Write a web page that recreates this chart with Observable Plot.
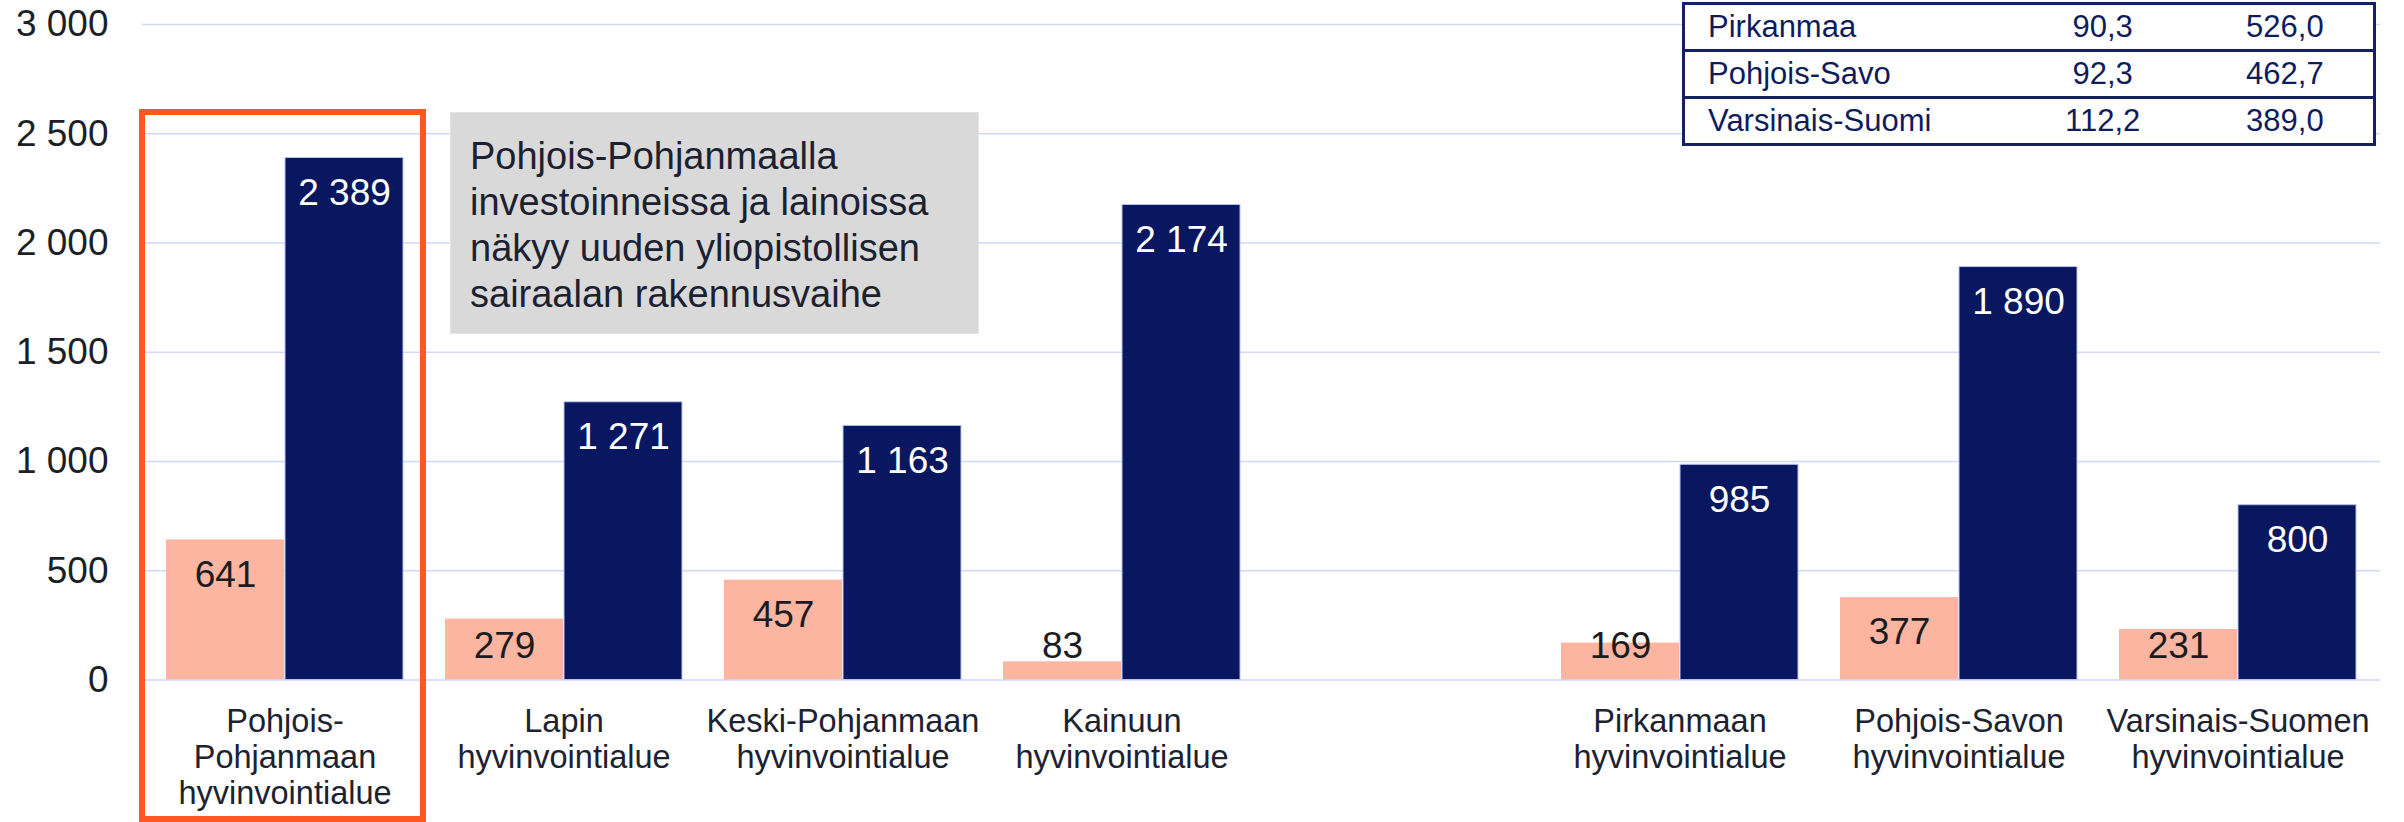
<!DOCTYPE html>
<html>
<head>
<meta charset="utf-8">
<script src="https://cdn.jsdelivr.net/npm/d3@7"></script>
<script src="https://cdn.jsdelivr.net/npm/@observablehq/plot@0.6"></script>
<style>
  html, body { margin: 0; padding: 0; background: #ffffff; }
  #wrap { position: relative; width: 2404px; height: 822px; overflow: hidden; background: #ffffff;
          font-family: "Liberation Sans", Arial, sans-serif; }
  #wrap svg { position: absolute; left: 0; top: 0; }
  .note { position: absolute; background: #d9d9d9; border: 1px solid #e4e4e4; box-sizing: border-box;
          color: #1b2130; font-size: 38px; line-height: 46px; padding: 20px 0 0 19px; }
  .highlight { position: absolute; border: 6px solid #fe5722; box-sizing: border-box; }
  .tbl { position: absolute; background: #ffffff; box-sizing: border-box;
         border-left: 3px solid #13215e; border-right: 3px solid #13215e; border-top: 3px solid #13215e;
         color: #0f1c5c; font-size: 31px; }
  .tbl .row { display: flex; height: 44px; line-height: 44px; border-bottom: 3px solid #13215e; }
  .tbl .c0 { width: 330px; padding-left: 23px; box-sizing: border-box; }
  .tbl .c1 { width: 192px; text-align: center; }
  .tbl .c2 { width: 180px; text-align: center; }
</style>
</head>
<body>
<div id="wrap"></div>
<script>
// ---- data ----
const categories = ["Pohjois-Pohjanmaa", "Lappi", "Keski-Pohjanmaa", "Kainuu", "_gap", "Pirkanmaa", "Pohjois-Savo", "Varsinais-Suomi"];
const categoryLabels = [
  "Pohjois-\nPohjanmaan\nhyvinvointialue",
  "Lapin\nhyvinvointialue",
  "Keski-Pohjanmaan\nhyvinvointialue",
  "Kainuun\nhyvinvointialue",
  "",
  "Pirkanmaan\nhyvinvointialue",
  "Pohjois-Savon\nhyvinvointialue",
  "Varsinais-Suomen\nhyvinvointialue"
];
const regions = ["Pohjois-Pohjanmaa", "Lappi", "Keski-Pohjanmaa", "Kainuu", "Pirkanmaa", "Pohjois-Savo", "Varsinais-Suomi"];
const seriesPink = [641, 279, 457, 83, 169, 377, 231];
const seriesNavy = [2389, 1271, 1163, 2174, 985, 1890, 800];
const yTicks = [0, 500, 1000, 1500, 2000, 2500, 3000];

const highlighted = "Pohjois-Pohjanmaa";
const noteLines = ["Pohjois-Pohjanmaalla", "investoinneissa ja lainoissa", "näkyy uuden yliopistollisen", "sairaalan rakennusvaihe"];

const tableNames = ["Pirkanmaa", "Pohjois-Savo", "Varsinais-Suomi"];
const tableCol1 = [90.3, 92.3, 112.2];
const tableCol2 = [526.0, 462.7, 389.0];

// ---- helpers ----
const fmtInt = d => d3.format(",")(d).replace(/,/g, " ");
const fmtDec = d => d.toFixed(1).replace(".", ",");
const labelOf = new Map(categories.map((c, i) => [c, categoryLabels[i]]));
const rows = regions.map((r, i) => ({cat: r, pink: seriesPink[i], navy: seriesNavy[i]}));

const PINK = "#fcb5a0";
const NAVY = "#091760";
const GRID = "#cfd8f6";

const chart = Plot.plot({
  width: 2404,
  height: 822,
  marginLeft: 142,
  marginRight: 24,
  marginTop: 24,
  marginBottom: 142.5,
  style: {fontFamily: '"Liberation Sans", Arial, sans-serif', background: "transparent", overflow: "visible"},
  x: {domain: categories, paddingInner: 0.149, paddingOuter: 0.075, axis: null},
  y: {domain: [0, 3000], axis: null},
  marks: [
    Plot.ruleY(yTicks, {stroke: GRID, strokeWidth: 1.6}),
    Plot.axisY(yTicks, {tickSize: 0, tickPadding: 34, fontSize: 37, fill: "#1c1f26", tickFormat: fmtInt, label: null}),
    Plot.barY(rows, {x: "cat", y: "pink", fill: PINK, insetRight: 119}),
    Plot.barY(rows, {x: "cat", y: "navy", fill: NAVY, stroke: "#b9c3ee", strokeWidth: 1, insetLeft: 119}),
    Plot.text(rows, {x: "cat", y: d => Math.max(d.pink, 316), dy: 35, dx: -59.5, text: d => fmtInt(d.pink),
                     fill: "#1a1c22", fontSize: 37}),
    Plot.text(rows, {x: "cat", y: "navy", dy: 35, dx: 59.5, text: d => fmtInt(d.navy),
                     fill: "#ffffff", fontSize: 37}),
    Plot.text(categories, {x: d => d, frameAnchor: "bottom", dy: 26, lineAnchor: "top", lineHeight: 1.108,
                           text: d => labelOf.get(d), fill: "#1c2230", fontSize: 32.5})
  ]
});

const wrap = document.getElementById("wrap");
wrap.appendChild(chart);

// highlight frame around the first category, positioned from the x scale
const xs = chart.scale("x");
const hx = xs.apply(highlighted);
const hl = document.createElement("div");
hl.className = "highlight";
hl.style.left = (hx - 27) + "px";
hl.style.width = (xs.bandwidth + 50) + "px";
hl.style.top = "108.7px";
hl.style.height = "713px";
wrap.appendChild(hl);

// annotation box
const note = document.createElement("div");
note.className = "note";
note.style.left = "450px";
note.style.top = "112px";
note.style.width = "529px";
note.style.height = "222px";
note.innerHTML = noteLines.join("<br>");
wrap.appendChild(note);

// table (top-right)
const tbl = document.createElement("div");
tbl.className = "tbl";
tbl.style.left = "1682px";
tbl.style.top = "1.8px";
tbl.style.width = "694px";
tableNames.forEach((n, i) => {
  const r = document.createElement("div");
  r.className = "row";
  r.innerHTML = `<span class="c0">${n}</span><span class="c1">${fmtDec(tableCol1[i])}</span><span class="c2">${fmtDec(tableCol2[i])}</span>`;
  tbl.appendChild(r);
});
wrap.appendChild(tbl);
</script>
</body>
</html>
